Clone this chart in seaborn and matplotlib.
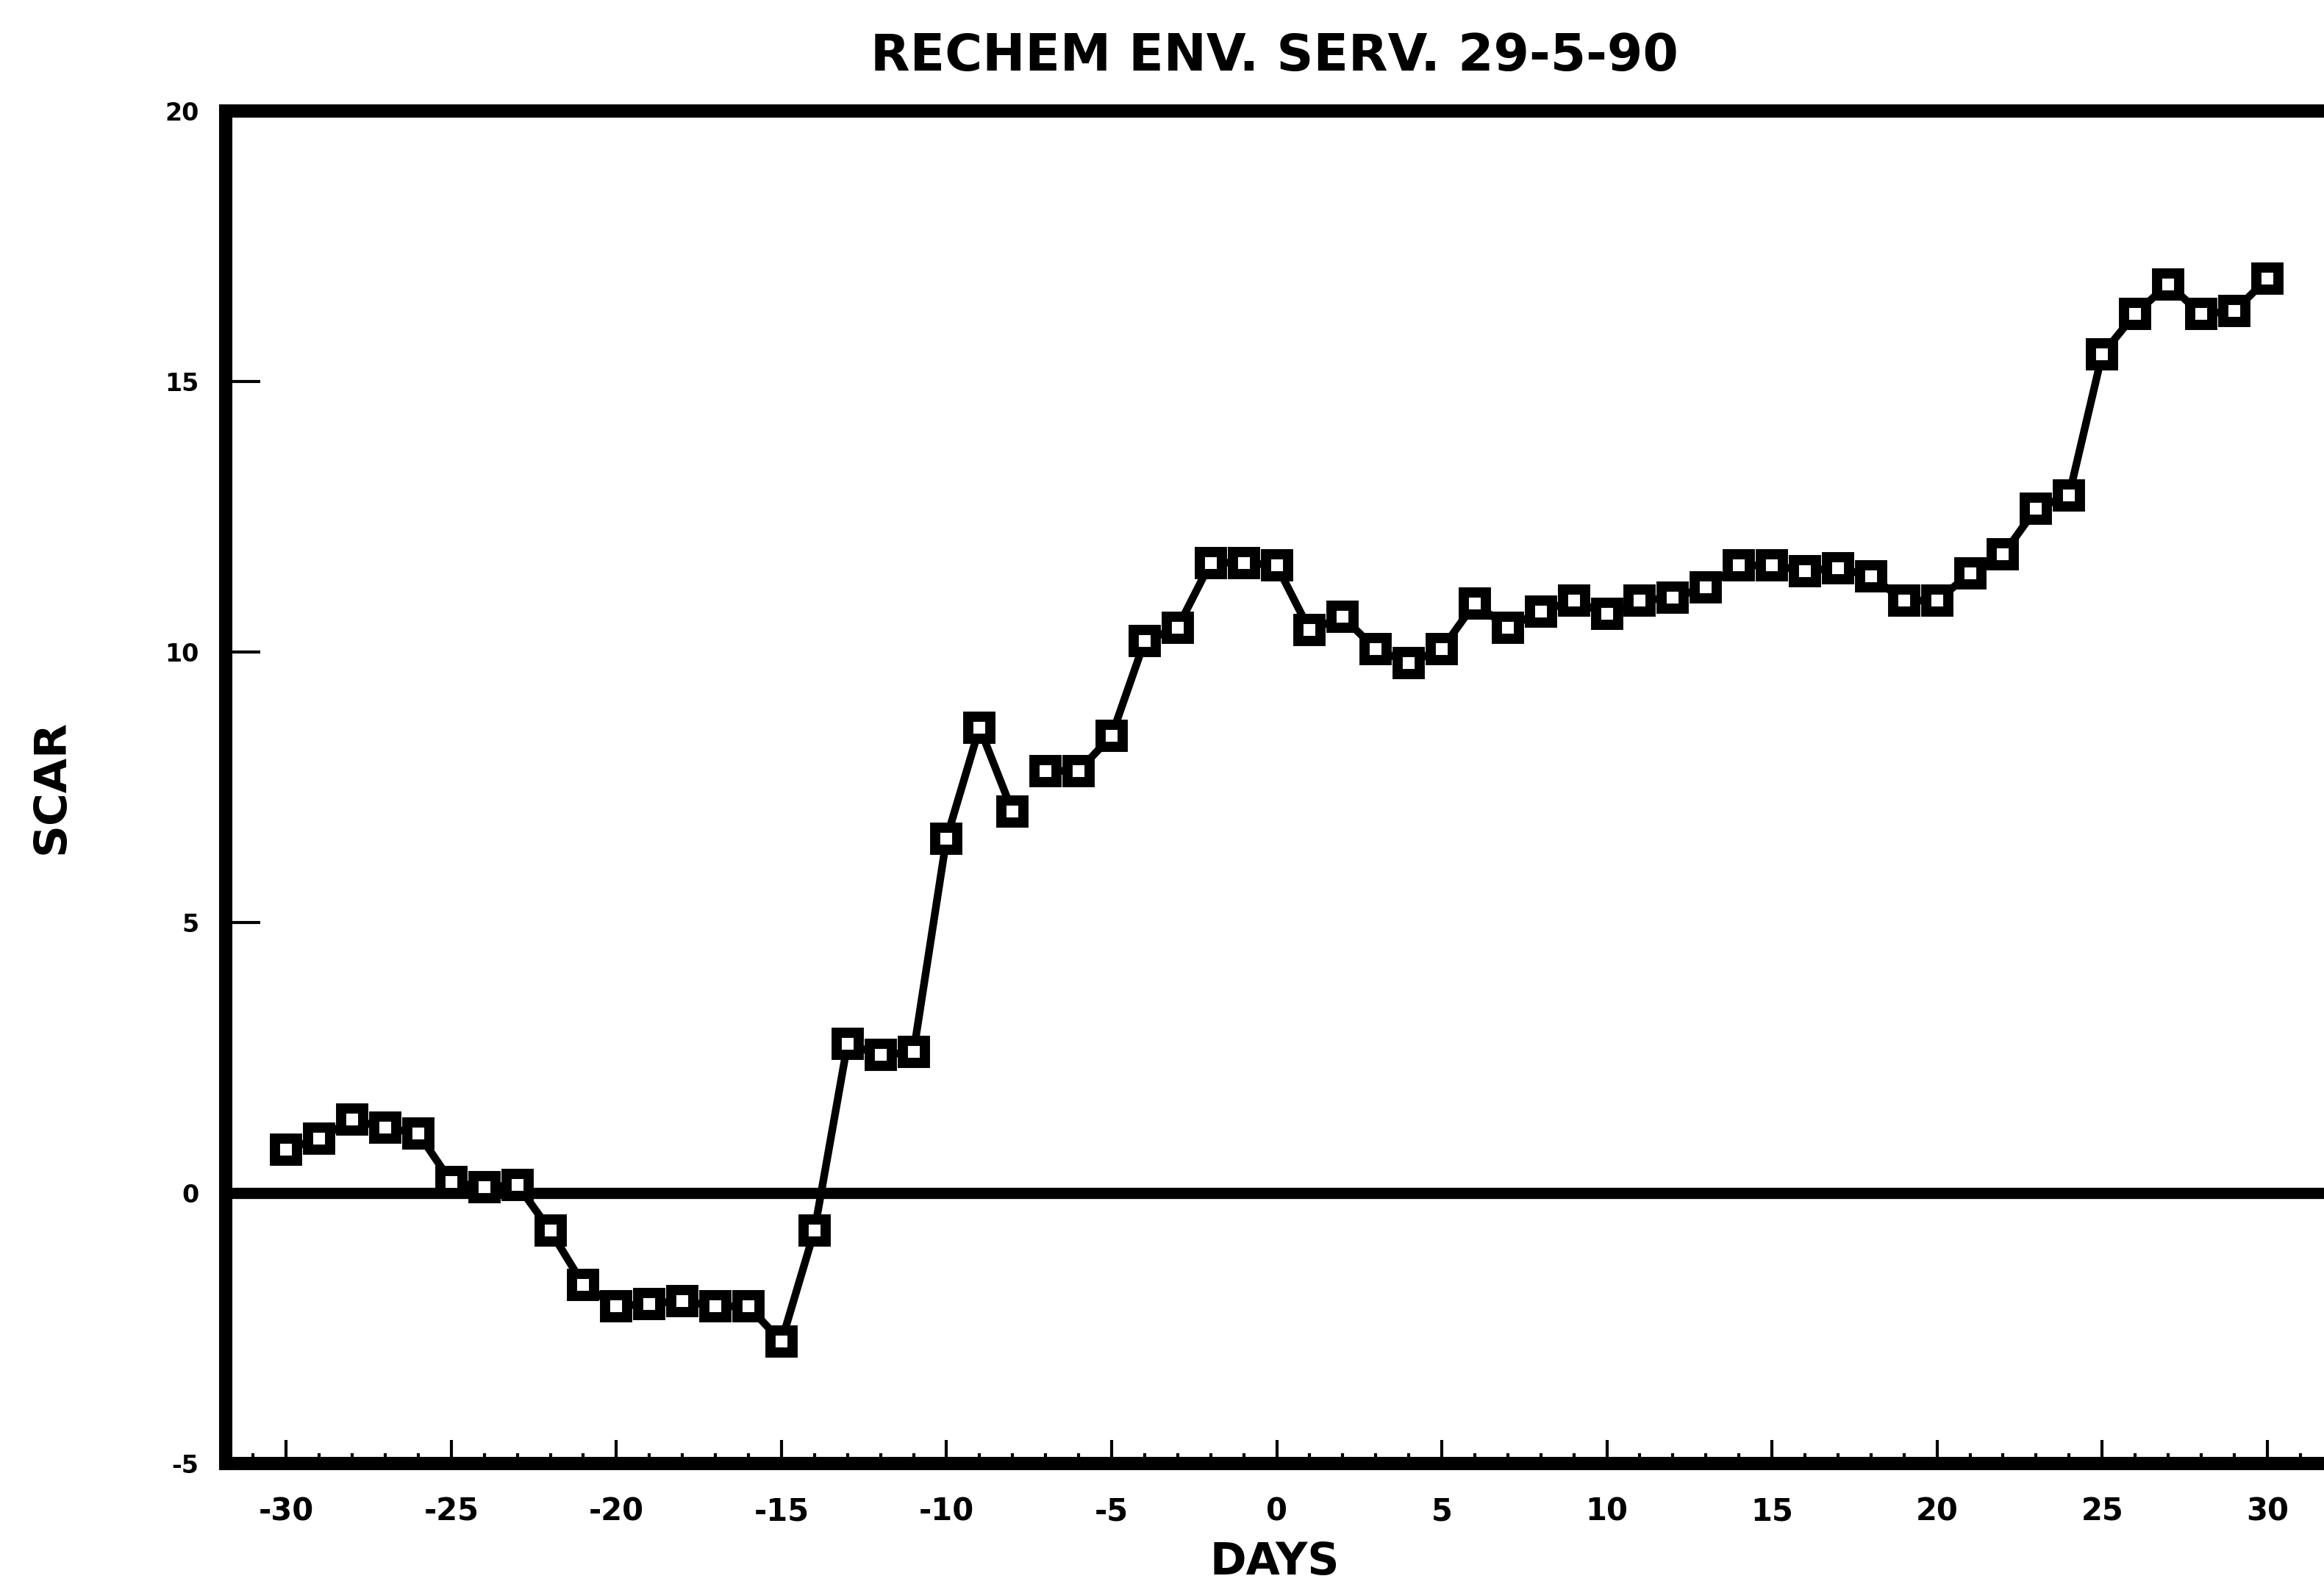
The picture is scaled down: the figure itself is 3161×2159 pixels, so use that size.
import matplotlib
matplotlib.use("Agg")
import matplotlib.pyplot as plt
import seaborn as sns
import pandas as pd
from matplotlib.ticker import MultipleLocator

# ---- data ----
days = list(range(-30, 31))
scar = [0.8, 1.0, 1.35, 1.2, 1.1, 0.2, 0.1, 0.15, -0.7, -1.7,
        -2.1, -2.05, -2.0, -2.1, -2.1, -2.75, -0.7, 2.75, 2.55, 2.6,
        6.55, 8.6, 7.05, 7.8, 7.8, 8.45, 10.2, 10.45, 11.65, 11.65,
        11.6, 10.4, 10.65, 10.05, 9.8, 10.05, 10.9, 10.45, 10.75, 10.95,
        10.7, 10.95, 11.0, 11.2, 11.6, 11.6, 11.5, 11.55, 11.4, 10.95,
        10.95, 11.45, 11.8, 12.65, 12.9, 15.5, 16.25, 16.8, 16.25, 16.3,
        16.9]
line_break_after_day = -8   # the line is not drawn between day -8 and day -7
x_ticks = [-30, -25, -20, -15, -10, -5, 0, 5, 10, 15, 20, 25, 30]
y_ticks = [-5, 0, 5, 10, 15, 20]
title = "RECHEM ENV. SERV. 29-5-90"
x_label = "DAYS"
y_label = "SCAR"

df = pd.DataFrame({"day": days, "scar": scar})
df["segment"] = (df["day"] > line_break_after_day).astype(int)

sns.set_style("white")
plt.rcParams["font.family"] = ["DejaVu Sans"]
plt.rcParams["font.weight"] = "bold"
plt.rcParams["text.color"] = "black"
plt.rcParams["axes.labelcolor"] = "black"
plt.rcParams["xtick.color"] = "black"
plt.rcParams["ytick.color"] = "black"

fig = plt.figure(figsize=(31.61, 21.59), dpi=100)
ax = fig.add_axes([0.097, 0.078, 0.903, 0.852])

ax.axhline(0, color="black", lw=11, zorder=1)

sns.lineplot(data=df, x="day", y="scar", units="segment", estimator=None,
             color="black", lw=7.5, marker="s", markersize=21,
             markerfacecolor="white", markeredgecolor="black",
             markeredgewidth=10, ax=ax, zorder=3)

ax.set_xlim(-31.84, 31.72)
ax.set_ylim(-5, 20)

ax.xaxis.set_minor_locator(MultipleLocator(1))
ax.set_xticks(x_ticks)
ax.set_xticklabels([str(v) for v in x_ticks])
ax.set_yticks(y_ticks)
ax.set_yticklabels([str(v) for v in y_ticks])

ax.tick_params(axis="x", which="major", direction="in", length=23, width=3,
               pad=32, labelsize=30, bottom=True, colors="black")
ax.tick_params(axis="x", which="minor", direction="in", length=10, width=3,
               bottom=True, colors="black")
ax.tick_params(axis="y", which="major", direction="in", length=34, width=3,
               pad=26, labelsize=24, left=True, colors="black")

for side in ["left", "top", "bottom"]:
    ax.spines[side].set_visible(True)
    ax.spines[side].set_color("black")
    ax.spines[side].set_linewidth(13)
ax.spines["right"].set_visible(False)

ax.set_xlabel(x_label, fontsize=43, fontweight="bold", labelpad=14)
ax.set_ylabel(y_label, fontsize=44, fontweight="bold", labelpad=90)
ax.set_title(title, fontsize=50, fontweight="bold", pad=40)

fig.savefig("out.png", dpi=100)
